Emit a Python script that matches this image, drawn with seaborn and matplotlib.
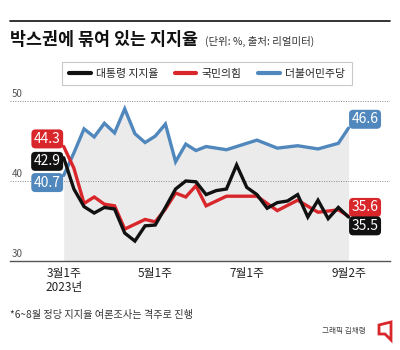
import matplotlib
matplotlib.use("Agg")
import matplotlib.pyplot as plt
from matplotlib.lines import Line2D
from matplotlib.patches import Polygon
import seaborn as sns

# 주 인덱스 (0 = 3월1주, 28 = 9월2주)
week_pres = list(range(29))
week_party = list(range(15)) + [16, 19, 21, 23, 25, 27, 28]

# 대통령 지지율
pres = [42.9, 39.0, 36.8, 36.0, 36.7, 36.5, 33.5, 32.5, 34.4, 34.5,
        36.7, 39.0, 40.0, 39.9, 38.3, 38.8, 39.0, 42.0, 39.2, 38.3,
        36.6, 37.3, 37.5, 38.3, 35.5, 37.6, 35.3, 36.7, 35.5]
# 국민의힘
ppp = [44.3, 41.6, 37.2, 38.0, 37.1, 36.9, 34.0, 34.6, 35.2, 34.9,
       36.5, 38.5, 38.0, 39.4, 36.9, 38.1, 38.1, 36.3, 37.6, 36.1,
       36.4, 35.6]
# 더불어민주당
dem = [40.7, 43.5, 46.5, 45.5, 47.2, 46.0, 49.0, 45.9, 44.8, 45.6,
       47.1, 42.4, 44.6, 43.8, 44.3, 43.9, 45.1, 44.1, 44.4, 44.0,
       44.7, 46.6]

tick_pos = [0, 9, 18, 28]
tick_txt = ["3월1주\n2023년", "5월1주", "7월1주", "9월2주"]
names = ["대통령 지지율", "국민의힘", "더불어민주당"]

c_black = "#111111"
c_red = "#d8262b"
c_blue = "#5088bd"

sns.set_style("white")
plt.rcParams["font.family"] = ["Noto Sans CJK KR", "DejaVu Sans"]

fig = plt.figure(figsize=(4, 3.5), dpi=100)
ax = fig.add_axes([0.025, 0.254, 0.95, 0.483])

# 민주당 선 아래 회색 영역
ax.fill_between(week_party, 30, dem, color="#ebebeb", lw=0, zorder=0)

sns.lineplot(x=week_party, y=dem, color=c_blue, lw=2.4, ax=ax, zorder=3)
sns.lineplot(x=week_party, y=ppp, color=c_red, lw=2.4, ax=ax, zorder=4)
sns.lineplot(x=week_pres, y=pres, color=c_black, lw=2.4, ax=ax, zorder=5)
for ln in ax.lines:
    ln.set_solid_joinstyle("miter")

ax.set_xlim(-5.28, 32.08)
ax.set_ylim(30, 51.1)

for v in [40, 50]:
    ax.axhline(v, color="#888888", lw=0.7, ls=(0, (1, 1.5)), zorder=1)
for v in [30, 40, 50]:
    ax.text(0.005, v + 0.25, str(v), transform=ax.get_yaxis_transform(),
            fontsize=7, color="#555555", ha="left", va="bottom")

for s in ["top", "right", "left"]:
    ax.spines[s].set_visible(False)
ax.spines["bottom"].set_color("#555555")
ax.spines["bottom"].set_linewidth(1)
ax.set_yticks([])
ax.set_xticks(week_pres)
ax.set_xticklabels([tick_txt[tick_pos.index(i)] if i in tick_pos else "" for i in week_pres],
                   fontsize=8.5, color="#222222", linespacing=1.1)
ax.tick_params(axis="x", direction="in", length=4, width=0.7, color="#666666", pad=4)
ax.set_xlabel("")
ax.set_ylabel("")

# 값 라벨
def tag(x, y, txt, col, ha):
    ax.text(x, y, txt, color="white", fontsize=10, ha=ha, va="center", zorder=6,
            bbox=dict(boxstyle="round,pad=0.18,rounding_size=0.3", fc=col, ec="none"))

tag(-0.3, 45.25, "44.3", c_red, "right")
tag(-0.3, 42.45, "42.9", c_black, "right")
tag(-0.3, 39.8, "40.7", c_blue, "right")
tag(28.3, 47.7, "46.6", c_blue, "left")
tag(28.3, 36.7, "35.6", c_red, "left")
tag(28.3, 34.4, "35.5", c_black, "left")

# 범례
handles = [Line2D([], [], color=c, lw=3) for c in [c_black, c_red, c_blue]]
leg = fig.legend(handles, names, loc="center", bbox_to_anchor=(0.5175, 0.789),
                 ncol=3, fontsize=7.8, frameon=True, fancybox=False,
                 handlelength=2.0, columnspacing=1.5, handletextpad=0.5,
                 borderpad=0.6, borderaxespad=0)
leg.get_frame().set_edgecolor("#bbbbbb")
leg.get_frame().set_linewidth(0.8)

# 제목
fig.add_artist(Line2D([0.025, 0.975], [1 - 21 / 350] * 2, color="#111111", lw=1.2))
fig.text(0.025, 1 - 40 / 350, "박스권에 묶여 있는 지지율", fontsize=12.5,
         fontweight="heavy", ha="left", va="center", color="#111111")
fig.text(0.512, 1 - 41 / 350, "(단위: %, 출처: 리얼미터)", fontsize=7.5,
         ha="left", va="center", color="#333333")

fig.text(0.025, 1 - 315 / 350, "*6~8월 정당 지지율 여론조사는 격주로 진행",
         fontsize=7.3, ha="left", va="center", color="#333333")
fig.text(0.915, 1 - 331 / 350, "그래픽 김채령", fontsize=5.5,
         ha="right", va="center", color="#444444")
logo = [(379 / 400, 1 - 325 / 350), (391 / 400, 1 - 322 / 350),
        (391 / 400, 1 - 340 / 350), (385 / 400, 1 - 334 / 350),
        (379 / 400, 1 - 334 / 350)]
fig.add_artist(Polygon(logo, closed=True, fill=False, ec=c_red, lw=2))

fig.savefig("out.png", dpi=100)
